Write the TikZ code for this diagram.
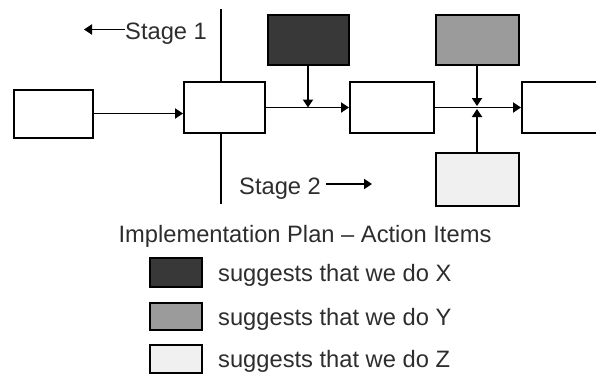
\documentclass[tikz,border=0pt]{standalone}
\usepackage{fontspec}
\setmainfont{Liberation Sans}
\usetikzlibrary{arrows.meta}
\definecolor{txt}{RGB}{45,45,45}
\definecolor{dark}{RGB}{56,56,56}
\definecolor{mid}{RGB}{155,155,155}
\definecolor{light}{RGB}{240,240,240}
\tikzset{
  box/.style={draw=black, line width=2pt, fill=white, inner sep=0pt},
  conn/.style={line width=1.8pt, black},
  arr/.style={conn, -{Triangle[length=8pt,width=10pt]}},
  lbl/.style={inner sep=0pt, text=txt, font=\fontsize{23.7}{28}\selectfont},
}
\begin{document}
\begin{tikzpicture}[x=1pt,y=-1pt]
\useasboundingbox (0,0) rectangle (596,375);
% stage divider
\coordinate (vtop) at (221,9);
\coordinate (vbot) at (221,204);
\draw[conn] (vtop) -- (vbot);
% main boxes
\node[box, minimum width=79pt, minimum height=48pt] (A) at (53.5,113.5) {};
\node[box, minimum width=81pt, minimum height=51pt] (B) at (224.5,107.5) {};
\node[box, minimum width=84pt, minimum height=51pt] (C) at (392,107.5) {};
\node[box, minimum width=82pt, minimum height=51pt] (D) at (563,107.5) {};
% action boxes
\node[box, fill=dark, minimum width=81pt, minimum height=50pt] (X) at (308,40) {};
\node[box, fill=mid, minimum width=83pt, minimum height=50pt] (Y) at (477,40) {};
\node[box, fill=light, minimum width=83pt, minimum height=53pt] (Z) at (477,179.5) {};
% connectors
\draw[arr] (A.east) -- (A.east -| B.west);
\draw[arr] (B.east) -- (C.west);
\draw[arr] (C.east) -- (D.west);
\draw[arr] (X.south) -- (X.south |- B.east);
\draw[arr, shorten >=1.5pt] (Y.south) -- (Y.south |- C.east);
\draw[arr, shorten >=1.5pt] (Z.north) -- (Z.north |- C.east);
% stage labels
\node[lbl, anchor=base west] (s1) at (125,39) {Stage 1};
\coordinate (s1end) at (84,29.5);
\draw[arr] (s1.west |- s1end) -- (s1end);
\node[lbl, anchor=base west] (s2) at (239,194) {Stage 2};
\coordinate (s2end) at (372,184);
\draw[arr] (s2.east |- s2end) ++(5,0) -- (s2end);
% legend
\node[lbl, anchor=base] (title) at (305,242) {Implementation Plan – Action Items};
\node[box, line width=1.6pt, fill=dark, minimum width=52pt, minimum height=29pt] (LX) at (176,272.5) {};
\node[box, line width=1.6pt, fill=mid, minimum width=52pt, minimum height=27pt] (LY) at (176,316.5) {};
\node[box, line width=1.6pt, fill=light, minimum width=52pt, minimum height=28pt] (LZ) at (176,359) {};
\node[lbl, anchor=base west] (tX) at (218,281) {suggests that we do X};
\node[lbl, anchor=base west] (tY) at (218,325) {suggests that we do Y};
\node[lbl, anchor=base west] (tZ) at (218,367.5) {suggests that we do Z};
\end{tikzpicture}
\end{document}
